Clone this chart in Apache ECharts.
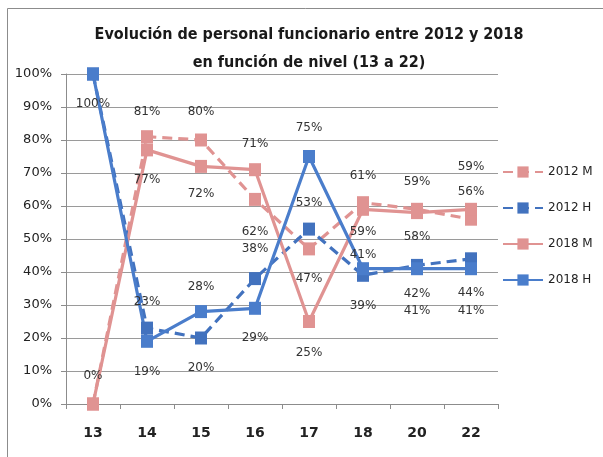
<!DOCTYPE html>
<html>
<head>
<meta charset="utf-8">
<script src="https://cdn.jsdelivr.net/npm/echarts@6/dist/echarts.min.js"></script>
<style>
  html, body { margin: 0; padding: 0; background: #fff; }
  #chart { width: 603px; height: 457px; }
</style>
</head>
<body>
<div id="chart"></div>
<script>
const NIVELES = ['13', '14', '15', '16', '17', '18', '20', '22']
const M_2012 = [0, 81, 80, 62, 47, 61, 59, 56]
const H_2012 = [100, 23, 20, 38, 53, 39, 42, 44]
const M_2018 = [0, 77, 72, 71, 25, 59, 58, 59]
const H_2018 = [100, 19, 28, 29, 75, 41, 41, 41]
const Y_TICKS = [0, 10, 20, 30, 40, 50, 60, 70, 80, 90, 100]

// label vertical offsets (px from the marker), null = no label
const DY_M_2012 = [-28, -25, -28, 32, 30, -27, -27, -27]
const DY_H_2012 = [30, -26, 30, -30, -26, 31, 28, 34]
const DY_M_2018 = [null, 30, 27, -26, 31, 23, 24, -42]
const DY_H_2018 = [null, 31, -25, 30, -29, -14, 42, 42]

const PINK = '#E09392'
const BLUE = '#4A7DCB'
const BLUE_DARK = '#4272BE'
const LABEL_FONT = 'DejaVu Sans'

function mkSeries(name, values, dys, color, dashed) {
  return {
    name,
    type: 'line',
    data: values.map((v, i) => ({
      value: v,
      label: dys[i] === null ? { show: false } : { show: true, position: 'inside', offset: [0, dys[i]] }
    })),
    symbol: 'rect',
    symbolSize: [12, 13],
    itemStyle: { color },
    lineStyle: { color, width: 3.2, type: dashed ? [10, 6] : 'solid' },
    label: {
      formatter: p => p.value + '%',
      color: '#333',
      fontFamily: LABEL_FONT,
      fontSize: 12
    },
    emphasis: { disabled: true },
    animation: false
  }
}

const chart = echarts.init(document.getElementById('chart'))
chart.setOption({
  backgroundColor: '#fff',
  graphic: [{
    type: 'rect',
    shape: { x: 7.5, y: 8.5, width: 700, height: 600 },
    style: { fill: 'none', stroke: '#8c8c8c', lineWidth: 1 },
    silent: true
  }],
  title: {
    text: 'Evolución de personal funcionario entre 2012 y 2018\nen función de nivel (13 a 22)',
    left: 304,
    textAlign: 'center',
    top: 16,
    textStyle: {
      fontFamily: 'DejaVu Sans Condensed',
      fontWeight: 'bold',
      fontSize: 16,
      lineHeight: 28,
      color: '#1a1a1a'
    }
  },
  legend: {
    orient: 'vertical',
    left: 497,
    top: 161,
    itemWidth: 40,
    itemHeight: 14,
    itemGap: 24,
    textStyle: { fontFamily: LABEL_FONT, fontSize: 12, color: '#222' },
    data: ['2012 M', '2012 H', '2018 M', '2018 H']
  },
  grid: { left: 66, right: 105, top: 74, bottom: 53 },
  xAxis: {
    type: 'category',
    data: NIVELES,
    boundaryGap: true,
    axisLine: { lineStyle: { color: '#8c8c8c', width: 1 } },
    axisTick: { show: true, length: 5, inside: false, lineStyle: { color: '#8c8c8c' } },
    axisLabel: { margin: 22, fontFamily: LABEL_FONT, fontWeight: 'bold', fontSize: 14, color: '#222' }
  },
  yAxis: {
    type: 'value',
    min: Y_TICKS[0],
    max: Y_TICKS[Y_TICKS.length - 1],
    interval: 10,
    axisLine: { show: true, lineStyle: { color: '#8c8c8c', width: 1 } },
    axisTick: { show: true, length: 5, lineStyle: { color: '#8c8c8c' } },
    axisLabel: { margin: 14, formatter: '{value}%', fontFamily: LABEL_FONT, fontSize: 13, color: '#222' },
    splitLine: { show: true, lineStyle: { color: '#9a9a9a', width: 1 } }
  },
  series: [
    mkSeries('2012 M', M_2012, DY_M_2012, PINK, true),
    mkSeries('2012 H', H_2012, DY_H_2012, BLUE_DARK, true),
    mkSeries('2018 M', M_2018, DY_M_2018, PINK, false),
    mkSeries('2018 H', H_2018, DY_H_2018, BLUE, false)
  ]
})
</script>
</body>
</html>
